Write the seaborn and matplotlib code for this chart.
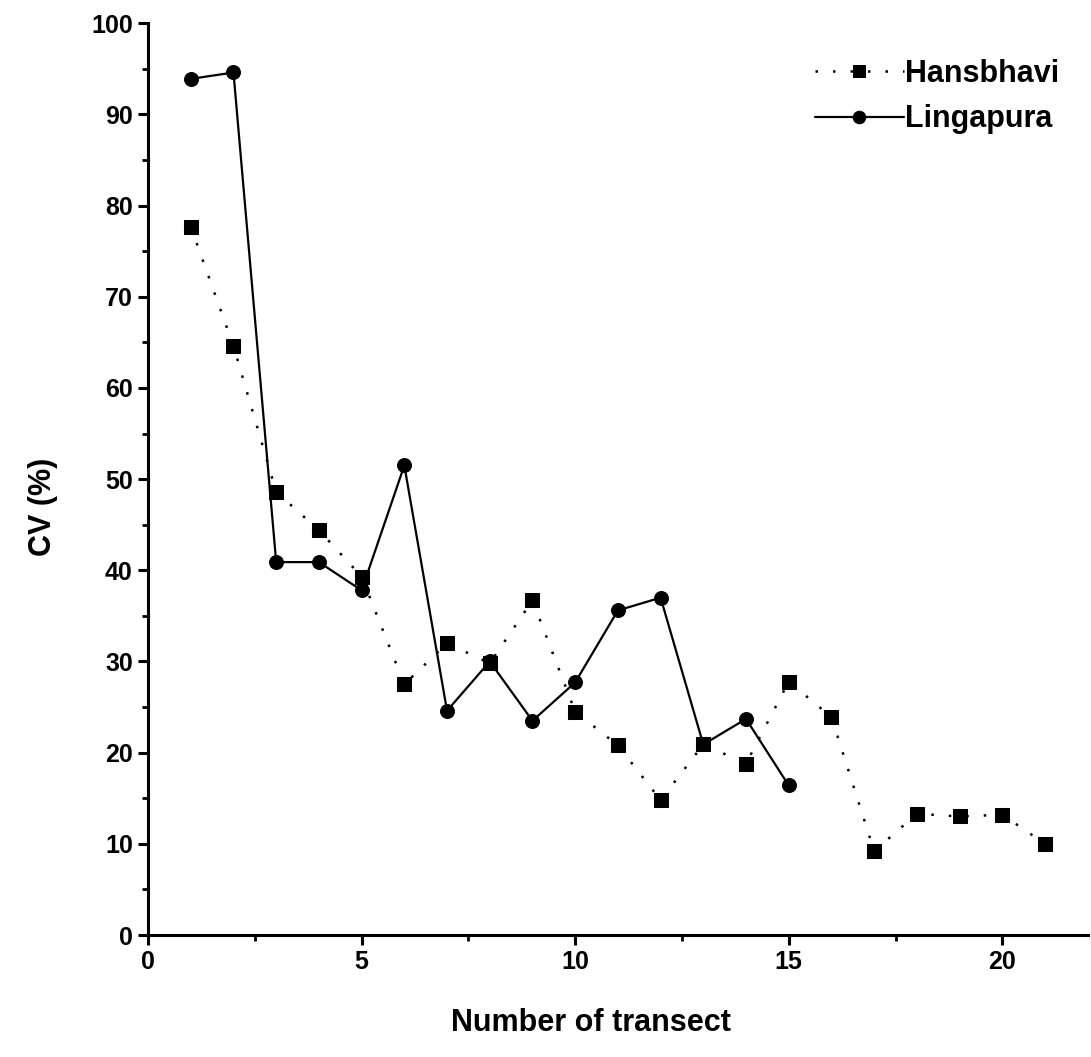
import matplotlib
matplotlib.use("Agg")
import matplotlib.pyplot as plt
from matplotlib.ticker import MultipleLocator
import seaborn as sns
import pandas as pd

# Data
hans_x = [1, 2, 3, 4, 5, 6, 7, 8, 9, 10, 11, 12, 13, 14, 15, 16, 17, 18, 19, 20, 21]
hans_cv = [77.7, 64.6, 48.6, 44.4, 39.3, 27.5, 32.0, 29.8, 36.7, 24.5, 20.8, 14.8,
           20.9, 18.8, 27.8, 23.9, 9.2, 13.3, 13.0, 13.2, 10.0]
ling_x = [1, 2, 3, 4, 5, 6, 7, 8, 9, 10, 11, 12, 13, 14, 15]
ling_cv = [93.9, 94.6, 40.9, 40.9, 37.8, 51.5, 24.6, 30.0, 23.5, 27.7, 35.6, 37.0,
           20.9, 23.7, 16.4]

x_label = "Number of transect"
y_label = "CV (%)"

sns.set_theme(style="ticks")
plt.rcParams['font.family'] = ['Liberation Sans', 'DejaVu Sans']
plt.rcParams['text.color'] = 'black'
plt.rcParams['axes.labelcolor'] = 'black'

fig = plt.figure(figsize=(10.91, 10.57), dpi=100)
ax = fig.add_axes([0.1357, 0.1154, 0.8613, 0.8626])

df_h = pd.DataFrame({"x": hans_x, "cv": hans_cv})
df_l = pd.DataFrame({"x": ling_x, "cv": ling_cv})

sns.lineplot(data=df_h, x="x", y="cv", ax=ax, color="black", marker="s",
             markersize=10, markeredgecolor="black", linestyle=(0, (1, 6)),
             linewidth=1.8, label="Hansbhavi")
sns.lineplot(data=df_l, x="x", y="cv", ax=ax, color="black", marker="o",
             markersize=10, markeredgecolor="black", linestyle="-",
             linewidth=1.6, label="Lingapura")

ax.set_xlim(0, 22)
ax.set_ylim(0, 100)
ax.xaxis.set_major_locator(MultipleLocator(5))
ax.xaxis.set_minor_locator(MultipleLocator(2.5))
ax.yaxis.set_major_locator(MultipleLocator(10))
ax.yaxis.set_minor_locator(MultipleLocator(5))

for s in ["top", "right"]:
    ax.spines[s].set_visible(False)
for s in ["left", "bottom"]:
    ax.spines[s].set_linewidth(2.2)
    ax.spines[s].set_color("black")

ax.tick_params(axis="both", which="major", direction="out", length=7, width=2.2,
               colors="black", labelsize=18, pad=4)
ax.tick_params(axis="both", which="minor", direction="out", length=4, width=2.0,
               colors="black")
for lab in ax.get_xticklabels() + ax.get_yticklabels():
    lab.set_fontweight("bold")

ax.set_xlabel(x_label, fontsize=22, fontweight="bold", labelpad=24)
ax.set_ylabel(y_label, fontsize=22, fontweight="bold", labelpad=24)
ax.xaxis.label.set_x(0.471)
ax.yaxis.label.set_y(0.47)

leg = ax.legend(loc="upper left", bbox_to_anchor=(0.747, 0.944),
                bbox_transform=fig.transFigure, frameon=False,
                prop={"size": 22, "weight": "bold"}, handlelength=2.9,
                handletextpad=0.05, labelspacing=0.5, borderpad=0,
                borderaxespad=0, markerscale=0.9)

fig.savefig("out.png", dpi=100, facecolor="white")
